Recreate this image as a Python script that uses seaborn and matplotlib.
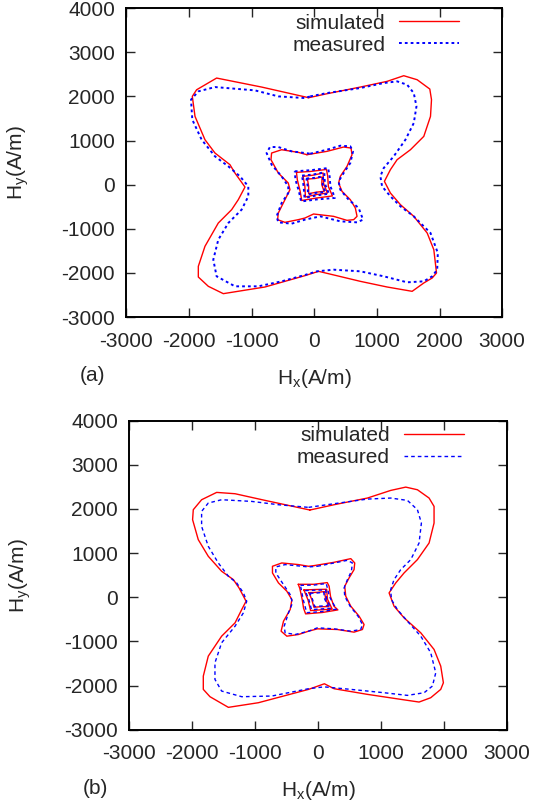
import pandas as pd
import matplotlib
matplotlib.use('Agg')
import matplotlib.pyplot as plt
from matplotlib.lines import Line2D
import seaborn as sns

# loci, (Hx, Hy) in A/m
# ---------- panel (a) ----------
a_sim_big = [(-90, 1970), (203, 2060), (736, 2211), (1163, 2340), (1429, 2468), (1643, 2377),
             (1845, 2166), (1872, 1925), (1856, 1547), (1749, 1094), (1536, 792), (1323, 566),
             (1216, 340), (1120, 75), (1216, -189), (1376, -453), (1589, -717), (1803, -1094),
             (1909, -1472), (1952, -2000), (1883, -2113), (1749, -2226), (1563, -2415),
             (1163, -2317), (736, -2189), (69, -1962), (-149, -2060), (-787, -2317),
             (-1452, -2468), (-1691, -2302), (-1851, -2091), (-1851, -1849), (-1745, -1396),
             (-1532, -868), (-1319, -566), (-1213, -340), (-1106, -53), (-1266, 264),
             (-1346, 453), (-1585, 717), (-1745, 1019), (-1904, 1547), (-1947, 2000),
             (-1878, 2150), (-1559, 2415), (-840, 2211)]
a_mea_big = [(-64, 2000), (203, 2075), (736, 2189), (1109, 2302), (1323, 2340), (1483, 2264),
             (1589, 2075), (1632, 1774), (1589, 1396), (1456, 1019), (1269, 642), (1109, 377),
             (1056, 189), (1083, -38), (1216, -264), (1376, -491), (1589, -717), (1856, -1094),
             (1973, -1547), (1963, -1925), (1883, -2075), (1749, -2189), (1483, -2211),
             (1109, -2075), (736, -1962), (309, -1925), (43, -1962), (-149, -2045),
             (-521, -2189), (-894, -2302), (-1266, -2302), (-1559, -2075), (-1612, -1698),
             (-1532, -1245), (-1372, -868), (-1160, -566), (-1053, -264), (-1053, -38),
             (-1186, 189), (-1372, 415), (-1585, 642), (-1798, 1019), (-1947, 1472),
             (-1968, 1925), (-1851, 2113), (-1585, 2211), (-947, 2136), (-574, 2000),
             (-149, 1962)]
a_sim_mid = [(-117, 679), (203, 755), (469, 853), (587, 830), (603, 679), (523, 415), (416, 189),
             (389, 38), (443, -151), (576, -340), (656, -528), (683, -717), (629, -792),
             (523, -808), (309, -717), (-11, -664), (-149, -755), (-255, -792), (-468, -853),
             (-585, -792), (-574, -642), (-468, -340), (-388, -113), (-415, 38), (-574, 264),
             (-691, 566), (-681, 717), (-521, 792), (-255, 732)]
a_mea_mid = [(-64, 702), (203, 792), (416, 883), (576, 868), (619, 755), (576, 491), (469, 264),
             (389, 75), (416, -113), (549, -340), (709, -528), (779, -792), (683, -853),
             (416, -830), (96, -717), (-149, -792), (-362, -883), (-574, -853), (-601, -717),
             (-521, -415), (-415, -189), (-415, -38), (-521, 189), (-681, 453), (-761, 717),
             (-707, 853), (-574, 853), (-362, 755)]
a_sim_s1 = [(-284, 279), (-60, 300), (195, 345), (215, 190), (225, -40), (290, -255), (35, -302),
            (-200, -358), (-225, -150), (-270, 110)]
a_mea_s1 = [(-311, 302), (-44, 330), (221, 377), (245, 189), (258, -38), (330, -300), (35, -335),
            (-210, -380), (-245, -151), (-300, 113)]
a_sim_s2 = [(-178, 189), (-20, 215), (141, 264), (150, 20), (210, -189), (30, -225), (-141, -279),
            (-150, -30)]
a_mea_s2 = [(-195, 205), (-20, 230), (160, 280), (170, 20), (235, -205), (30, -245), (-155, -300),
            (-170, -30)]
a_sim_s3 = [(-109, 128), (10, 140), (125, 174), (120, 0), (157, -151), (30, -170), (-88, -204),
            (-90, -30)]
a_mea_s3 = [(-125, 140), (10, 155), (140, 190), (135, 0), (175, -165), (30, -185), (-100, -220),
            (-105, -30)]

# ---------- panel (b) ----------
b_sim_big = [(-130, 1975), (254, 2095), (783, 2246), (1153, 2419), (1392, 2494), (1577, 2434),
             (1762, 2246), (1841, 2057), (1841, 1680), (1762, 1228), (1577, 852), (1365, 550),
             (1233, 324), (1127, 98), (1206, -203), (1365, -467), (1630, -806), (1841, -1183),
             (1947, -1560), (1989, -1937), (1947, -2087), (1788, -2276), (1603, -2374),
             (1312, -2313), (783, -2200), (254, -2072), (100, -1960), (-151, -2087),
             (-947, -2389), (-1424, -2494), (-1716, -2253), (-1822, -2087), (-1822, -1786),
             (-1743, -1334), (-1531, -882), (-1318, -580), (-1212, -279), (-1143, -90),
             (-1255, 211), (-1345, 399), (-1531, 588), (-1743, 927), (-1902, 1304),
             (-1992, 1756), (-1981, 1982), (-1849, 2208), (-1610, 2374), (-1318, 2344),
             (-841, 2193)]
b_mea_big = [(-151, 2035), (254, 2118), (783, 2223), (1153, 2246), (1418, 2193), (1577, 1982),
             (1640, 1680), (1603, 1228), (1471, 852), (1312, 625), (1206, 399), (1153, 173),
             (1164, -53), (1259, -279), (1418, -543), (1630, -882), (1788, -1258), (1868, -1711),
             (1815, -2012), (1683, -2163), (1418, -2223), (1048, -2163), (519, -2087),
             (95, -2030), (-151, -2072), (-735, -2238), (-1212, -2253), (-1531, -2125),
             (-1637, -1861), (-1637, -1485), (-1531, -1032), (-1318, -656), (-1186, -354),
             (-1133, -90), (-1186, 98), (-1292, 324), (-1424, 475), (-1584, 776), (-1743, 1153),
             (-1849, 1605), (-1849, 1944), (-1743, 2133), (-1531, 2208), (-1053, 2170),
             (-629, 2095)]
b_sim_mid = [(-63, 716), (254, 791), (519, 874), (582, 776), (571, 625), (492, 437), (423, 249),
             (439, 23), (519, -203), (651, -430), (730, -618), (704, -731), (571, -791),
             (307, -731), (-11, -716), (-151, -769), (-310, -844), (-496, -882), (-587, -769),
             (-549, -543), (-443, -279), (-416, -53), (-496, 136), (-629, 324), (-724, 550),
             (-724, 701), (-576, 776), (-310, 739), (-151, 701)]
b_mea_mid = [(-11, 701), (254, 776), (466, 836), (545, 776), (529, 588), (466, 399), (413, 211),
             (423, 23), (508, -203), (635, -430), (704, -618), (677, -731), (519, -769),
             (254, -716), (-11, -693), (-151, -769), (-363, -844), (-523, -806), (-538, -656),
             (-470, -354), (-406, -128), (-443, 60), (-549, 286), (-671, 550), (-671, 686),
             (-523, 739), (-151, 686)]
b_sim_s1 = [(-315, 293), (-66, 293), (146, 331), (175, 250), (198, 15), (250, -200), (315, -287),
            (66, -346), (-198, -377), (-230, -250), (-251, -61), (-290, 200)]
b_mea_s1 = [(-280, 270), (-66, 275), (130, 310), (180, 15), (290, -270), (66, -325), (-180, -350),
            (-235, -61)]
b_sim_s2 = [(-225, 165), (-40, 175), (135, 180), (150, -50), (225, -271), (50, -285), (-119, -302),
            (-160, -60)]
b_mea_s2 = [(-205, 150), (-40, 160), (120, 165), (135, -50), (205, -250), (50, -265), (-105, -280),
            (-145, -60)]
b_sim_s3 = [(-146, 104), (-20, 110), (103, 127), (120, -40), (172, -212), (50, -215), (-66, -227),
            (-100, -50)]
b_mea_s3 = [(-130, 90), (-20, 95), (90, 112), (105, -40), (155, -195), (50, -200), (-55, -210),
            (-88, -50)]

ticks_x = [-3000, -2000, -1000, 0, 1000, 2000, 3000]
ticks_y = [-3000, -2000, -1000, 0, 1000, 2000, 3000, 4000]

FS = 15


def loops_frame(loops):
    '''one row per point, each locus closed back on its first point'''
    rows = []
    for k, pts in enumerate(loops):
        pts = list(pts) + [pts[0]]
        for i, (hx, hy) in enumerate(pts):
            rows.append({'loop': k, 'step': i, 'Hx': hx, 'Hy': hy})
    return pd.DataFrame(rows)


def draw_panel(ax, sim, mea, red_lw, blue_lw, dash, tag):
    sns.lineplot(data=loops_frame(sim), x='Hx', y='Hy', units='loop', estimator=None,
                 sort=False, color='red', lw=red_lw, ax=ax)
    sns.lineplot(data=loops_frame(mea), x='Hx', y='Hy', units='loop', estimator=None,
                 sort=False, color='blue', lw=blue_lw, linestyle=(0, dash), ax=ax)

    ax.set_xlim(-3000, 3000)
    ax.set_ylim(-3000, 4000)
    ax.set_xticks(ticks_x)
    ax.set_yticks(ticks_y)
    ax.tick_params(direction='in', length=6.5, width=1.0, top=True, right=True,
                   labelsize=FS)
    ax.tick_params(axis='x', pad=10.5)
    ax.tick_params(axis='y', pad=8)
    for s in ax.spines.values():
        s.set_linewidth(1.4)
        s.set_color('black')

    ax.set_xlabel(r'$\mathregular{H_x}$(A/m)', fontsize=FS)
    ax.set_ylabel(r'$\mathregular{H_y}$(A/m)', fontsize=FS)
    ax.xaxis.set_label_coords(0.5, -0.16)
    ax.yaxis.set_label_coords(-0.255, 0.5)

    handles = [Line2D([], [], color='red', lw=red_lw),
               Line2D([], [], color='blue', lw=blue_lw, linestyle=(0, dash))]
    ax.legend(handles, ['simulated', 'measured'], loc='upper right',
              bbox_to_anchor=(0.886, 0.982), markerfirst=False, frameon=False,
              alignment='right', handlelength=2.9, handletextpad=0.65,
              labelspacing=0.14, borderpad=0, borderaxespad=0, fontsize=FS)
    ax.text(-0.09, -0.19, tag, transform=ax.transAxes, fontsize=FS,
            ha='center', va='center')


if __name__ == "__main__":
    sns.set_theme(style='ticks')
    plt.rcParams['font.family'] = ['Liberation Sans', 'DejaVu Sans']
    plt.rcParams['axes.unicode_minus'] = False
    plt.rcParams['lines.scale_dashes'] = False
    plt.rcParams['mathtext.default'] = 'regular'

    fig = plt.figure(figsize=(5.47, 8.07), dpi=100)
    ax_a = fig.add_axes([0.231, 0.607, 0.687, 0.383])
    ax_b = fig.add_axes([0.236, 0.0958, 0.691, 0.383])

    draw_panel(ax_a, [a_sim_big, a_sim_mid, a_sim_s1, a_sim_s2, a_sim_s3],
               [a_mea_big, a_mea_mid, a_mea_s1, a_mea_s2, a_mea_s3], 1.0, 1.4, (2, 2.2), '(a)')
    draw_panel(ax_b, [b_sim_big, b_sim_mid, b_sim_s1, b_sim_s2, b_sim_s3],
               [b_mea_big, b_mea_mid, b_mea_s1, b_mea_s2, b_mea_s3], 1.0, 1.0, (2.6, 2.2), '(b)')

    fig.savefig('out.png', dpi=100)
